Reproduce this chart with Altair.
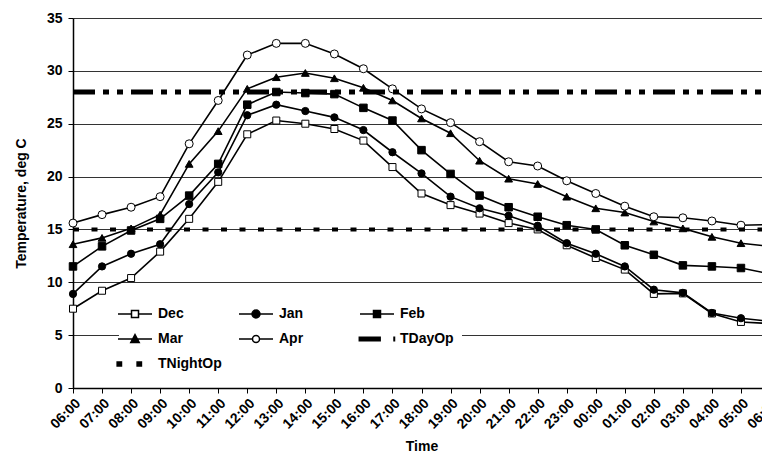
import json
import altair as alt
import pandas as pd

# ---------------- data ----------------
times = ["06:00", "07:00", "08:00", "09:00", "10:00", "11:00", "12:00", "13:00",
         "14:00", "15:00", "16:00", "17:00", "18:00", "19:00", "20:00", "21:00",
         "22:00", "23:00", "00:00", "01:00", "02:00", "03:00", "04:00", "05:00", "06:00"]

dec = [7.5, 9.2, 10.4, 12.9, 16.0, 19.5, 24.0, 25.3, 25.0, 24.5, 23.4, 20.9, 18.4,
       17.3, 16.5, 15.6, 15.0, 13.5, 12.3, 11.2, 8.9, 8.95, 7.05, 6.25, 6.1]
jan = [8.9, 11.5, 12.7, 13.6, 17.4, 20.4, 25.8, 26.8, 26.2, 25.6, 24.4, 22.3, 20.3,
       18.1, 17.0, 16.3, 15.35, 13.7, 12.7, 11.5, 9.3, 9.0, 7.1, 6.6, 6.3]
feb = [11.5, 13.4, 14.9, 16.0, 18.2, 21.2, 26.8, 28.0, 27.9, 27.8, 26.5, 25.3, 22.5,
       20.25, 18.2, 17.1, 16.2, 15.4, 15.0, 13.5, 12.6, 11.6, 11.5, 11.35, 10.8]
mar = [13.6, 14.2, 15.1, 16.4, 21.2, 24.3, 28.3, 29.4, 29.8, 29.3, 28.4, 27.2, 25.5,
       24.1, 21.5, 19.8, 19.3, 18.1, 17.0, 16.6, 15.75, 15.1, 14.3, 13.7, 13.4]
apr = [15.6, 16.4, 17.1, 18.1, 23.1, 27.2, 31.5, 32.6, 32.6, 31.6, 30.2, 28.3, 26.4,
       25.1, 23.3, 21.4, 21.0, 19.6, 18.4, 17.2, 16.2, 16.1, 15.8, 15.4, 15.45]

series_names = ["Dec", "Jan", "Feb", "Mar", "Apr"]
series_values = [dec, jan, feb, mar, apr]

ref_names = ["TDayOp", "TNightOp"]
ref_idx = [0, 24]
tday_op = [28, 28]
tnight_op = [15, 15]

legend_names = series_names + ref_names

# ---------------- tables ----------------
rows = []
for name, vals in zip(series_names, series_values):
    for i, v in enumerate(vals):
        rows.append({"series": name, "idx": i, "time": times[i], "value": v})
df = pd.DataFrame(rows)

df_day = pd.DataFrame({"idx": ref_idx, "value": tday_op, "series": "TDayOp"})
df_night = pd.DataFrame({"idx": ref_idx, "value": tnight_op, "series": "TNightOp"})

df_leg = pd.DataFrame({
    "series": legend_names,
    "idx": [0] * len(legend_names),
    "value": [v[0] for v in series_values] + [tday_op[0], tnight_op[0]],
})

# ---------------- styling ----------------
FONT = "Liberation Sans"
label_expr = json.dumps(times) + "[datum.value]"

x_enc = alt.X(
    "idx:Q",
    scale=alt.Scale(domain=[0, 24], range=[0, 697], nice=False, zero=False),
    axis=alt.Axis(
        values=list(range(25)), labelExpr=label_expr, title="Time",
        grid=False, labelAngle=-45, tickSize=5, tickColor="black",
        domainColor="black", domainWidth=1.5, labelFontSize=14,
        labelFont=FONT, labelFontWeight="bold", labelColor="black",
        titleFont=FONT, titleFontSize=14, titleFontWeight="bold",
        titleColor="black", titlePadding=8, labelPadding=3,
        labelOverlap=False, labelBound=False, labelFlush=False,
    ),
)
y_enc = alt.Y(
    "value:Q",
    scale=alt.Scale(domain=[0, 35], nice=False),
    axis=alt.Axis(
        values=[0, 5, 10, 15, 20, 25, 30, 35], title="Temperature, deg C",
        grid=True, gridColor="#333333", gridWidth=1, tickSize=5,
        tickColor="black", domainColor="black", domainWidth=1.5,
        labelFontSize=14, labelFont=FONT, labelFontWeight="bold",
        labelColor="black", labelPadding=6, titleFont=FONT, titleFontSize=14,
        titleFontWeight="bold", titleColor="black", titlePadding=18,
    ),
)

shape_range = ["square", "circle", "square", "triangle-up", "circle"]
fill_range = ["white", "black", "black", "black", "white"]
size_range = [49, 64, 49, 70, 49]

lines = alt.Chart(df).mark_line(color="black", strokeWidth=1.6).encode(
    x=x_enc, y=y_enc, detail="series:N"
)
points = alt.Chart(df).mark_point(filled=True, stroke="black", strokeWidth=1, opacity=1).encode(
    x=x_enc, y=y_enc,
    shape=alt.Shape("series:N", scale=alt.Scale(domain=series_names, range=shape_range), legend=None),
    fill=alt.Fill("series:N", scale=alt.Scale(domain=series_names, range=fill_range), legend=None),
    size=alt.Size("series:N", scale=alt.Scale(domain=series_names, range=size_range), legend=None),
)

day_line = alt.Chart(df_day).mark_line(
    color="black", strokeWidth=5, strokeDash=[22, 8, 6, 8, 6, 8], strokeCap="butt"
).encode(x=x_enc, y=y_enc)
night_line = alt.Chart(df_night).mark_line(
    color="black", strokeWidth=4, strokeDash=[6, 12.5], strokeCap="butt"
).encode(x=x_enc, y=y_enc)

# legend symbols (unit = 7 px)
p_line_open_sq = "M-2.43,0L-0.5,0M0.5,0L2.43,0M-0.5,-0.5L0.5,-0.5L0.5,0.5L-0.5,0.5Z"
p_line_circle = "M-2.43,0L2.43,0M-0.571,0A0.571,0.571 0 1,0 0.571,0A0.571,0.571 0 1,0 -0.571,0Z"
p_line_sq = "M-2.43,0L2.43,0M-0.5,-0.5L0.5,-0.5L0.5,0.5L-0.5,0.5Z"
p_line_tri = "M-2.43,0L2.43,0M0,-0.62L0.6,0.5L-0.6,0.5Z"
p_line_open_circle = "M-2.43,0L-0.5,0M0.5,0L2.43,0M-0.5,0A0.5,0.5 0 1,0 0.5,0A0.5,0.5 0 1,0 -0.5,0Z"
p_day = "M-2.53,-0.24L0.45,-0.24L0.45,0.24L-2.53,0.24ZM2.43,-0.24L2.5,-0.24L2.5,0.24L2.43,0.24Z"
p_night = "M-2.55,-0.29L-1.93,-0.29L-1.93,0.29L-2.55,0.29ZM0.3,-0.29L0.92,-0.29L0.92,0.29L0.3,0.29Z"

leg_shapes = [p_line_open_sq, p_line_circle, p_line_sq, p_line_tri, p_line_open_circle, p_day, p_night]
leg_fills = ["white", "black", "black", "black", "white", "black", "black"]
leg_strokes = ["black"] * len(legend_names)

leg_props = dict(
    orient="none", legendX=46, legendY=280, columns=3, direction="horizontal",
    gridAlign="all",
    symbolSize=196, symbolStrokeColor="black", symbolStrokeWidth=1.5,
    symbolOpacity=1, labelFont=FONT, labelFontSize=14, labelFontWeight="bold",
    labelColor="black", labelOffset=15, columnPadding=13, rowPadding=10,
    fillColor="white", padding=8, title=None, labelLimit=0,
)

legend_layer = alt.Chart(df_leg).mark_point(
    filled=True, opacity=0, strokeWidth=1.5
).encode(
    x=x_enc, y=y_enc,
    shape=alt.Shape("series:N",
                    scale=alt.Scale(domain=legend_names, range=leg_shapes),
                    legend=alt.Legend(**leg_props)),
    fill=alt.Fill("series:N",
                  scale=alt.Scale(domain=legend_names, range=leg_fills),
                  legend=alt.Legend(**leg_props)),
    stroke=alt.Stroke("series:N",
                      scale=alt.Scale(domain=legend_names, range=leg_strokes),
                      legend=alt.Legend(**leg_props)),
)

chart = alt.layer(lines, points, day_line, night_line, legend_layer).resolve_scale(
    shape="independent", fill="independent", stroke="independent"
).properties(
    width=689, height=370,
    autosize=alt.AutoSizeParams(type="none"),
    padding={"left": 73, "top": 18, "right": 0, "bottom": 72},
    background="white",
).configure_view(stroke=None).configure(font=FONT)

chart.save("out.html", embed_options={"renderer": "svg", "actions": False})
